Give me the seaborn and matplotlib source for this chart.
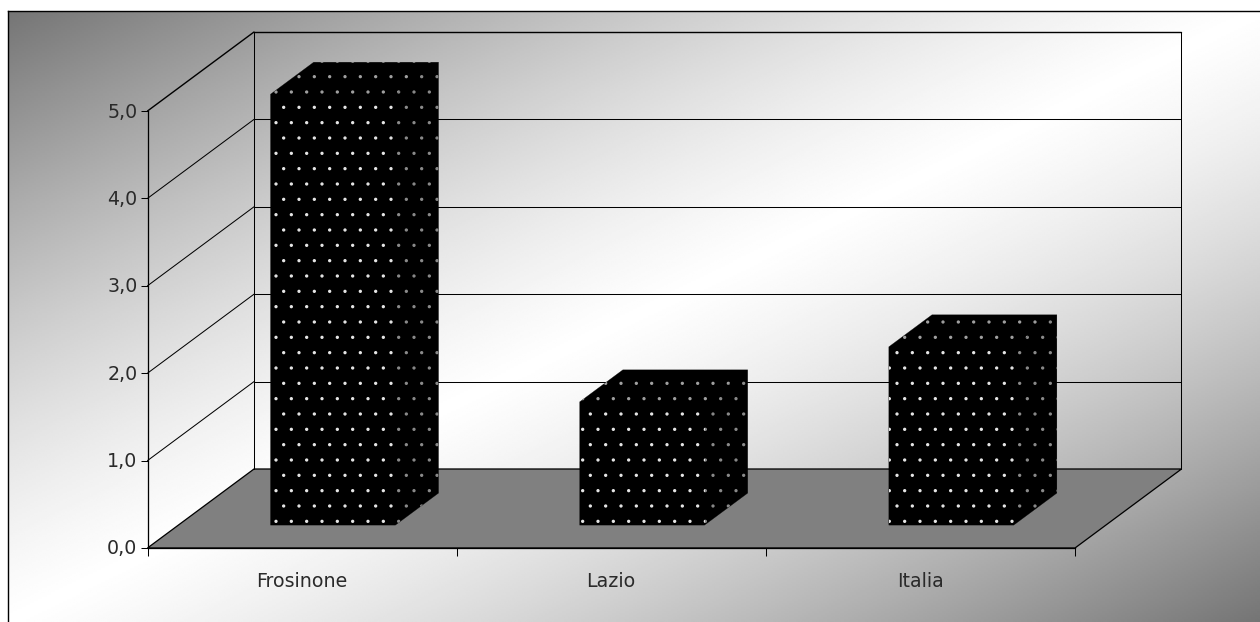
import numpy as np
import matplotlib
matplotlib.use("Agg")
import matplotlib.hatch
import matplotlib.pyplot as plt
from matplotlib.patches import Polygon
from matplotlib.lines import Line2D
from matplotlib.transforms import Affine2D
import seaborn as sns

regions = ["Frosinone", "Lazio", "Italia"]
values = [4.93, 1.41, 2.04]
y_ticks = [0, 1, 2, 3, 4, 5]
y_labels = ["0,0", "1,0", "2,0", "3,0", "4,0", "5,0"]

W, H = 1260, 622
DPI = 92
DEPTH = np.array([106.5, 79.0])     # pixel offset from the front plane to the back wall
BAR_NEAR, BAR_FAR = 0.29, 0.695     # depth range occupied by the bars

sns.set_theme(style="white")
plt.rcParams["font.family"] = ["DejaVu Sans"]
matplotlib.hatch.SmallFilledCircles.size = 0.065   # finer dots for the bar fill

fig = plt.figure(figsize=(W / DPI, H / DPI), dpi=DPI, facecolor="white")

# Panel background: diagonal gradient, grey in two opposite corners with a soft white ridge
bg = fig.add_axes([8 / W, 0, (W - 8) / W, (H - 11) / H], zorder=0)
xx, yy = np.meshgrid(np.linspace(0, 1, 600), np.linspace(0, 1, 300))
t = (xx + yy) / 2
profile = 0.5 * (1 - np.abs(2 * t - 1)) + 0.5 * np.sin(np.pi * t)
bg.imshow(117 + 138 * profile, cmap="gray", vmin=0, vmax=255,
          aspect="auto", origin="upper", interpolation="bilinear")
bg.set_xticks([])
bg.set_yticks([])
for side in ("right", "bottom"):
    bg.spines[side].set_visible(False)
for side in ("left", "top"):
    bg.spines[side].set_color("black")
    bg.spines[side].set_linewidth(1.1)

# Main axes occupy the front plane of the box
ax = fig.add_axes([147.5 / W, (H - 548) / H, (1075 - 147.5) / W, 437 / H], zorder=1)
ax.patch.set_visible(False)
sns.barplot(x=regions, y=values, ax=ax, width=0.404, color="black", saturation=1, zorder=5)
ax.set_xlim(-0.5, 2.5)
ax.set_ylim(0, 5)
ax.set_xlabel("")
ax.set_ylabel("")


def to_px(x, y, depth=0.0):
    """Data point pushed back by a depth fraction, in display pixels."""
    return ax.transData.transform((x, y)) + DEPTH * depth


def add_poly(points, **kw):
    poly = Polygon(points, closed=True, transform=None, clip_on=False, **kw)
    ax.add_artist(poly)
    return poly


def add_line(a, b, lw=0.8, color="black", zorder=2):
    ax.add_artist(Line2D([a[0], b[0]], [a[1], b[1]], transform=None, color=color,
                         lw=lw, clip_on=False, zorder=zorder))


# Floor of the box
add_poly([to_px(-0.5, 0), to_px(2.5, 0), to_px(2.5, 0, 1), to_px(-0.5, 0, 1)],
         facecolor="#808080", edgecolor="black", linewidth=1.0, zorder=1)

# Walls and gridlines
for v in y_ticks[1:]:
    edge = 1.1 if v == y_ticks[-1] else 0.8
    add_line(to_px(-0.5, v), to_px(-0.5, v, 1), lw=edge)
    add_line(to_px(-0.5, v, 1), to_px(2.5, v, 1), lw=edge)
add_line(to_px(-0.5, 0, 1), to_px(-0.5, 5, 1))
add_line(to_px(2.5, 0, 1), to_px(2.5, 5, 1))

# Bars: seaborn draws the front faces, side and top faces extend them in depth
for bar, value in zip(ax.patches[:len(regions)], values):
    x0, x1 = bar.get_x(), bar.get_x() + bar.get_width()
    near = to_px(0, 0, BAR_NEAR) - to_px(0, 0)
    bar.set_transform(ax.transData + Affine2D().translate(*near))
    bar.set(facecolor="black", edgecolor="#e6e6e6", linewidth=0, hatch=".", clip_on=False, zorder=6)
    # solid silhouette underneath, so no seams show between the faces
    add_poly([to_px(x0, 0, BAR_NEAR), to_px(x1, 0, BAR_NEAR), to_px(x1, 0, BAR_FAR),
              to_px(x1, value, BAR_FAR), to_px(x0, value, BAR_FAR), to_px(x0, value, BAR_NEAR)],
             facecolor="black", edgecolor="black", linewidth=0.2, zorder=4)
    add_poly([to_px(x1, 0, BAR_NEAR), to_px(x1, 0, BAR_FAR),
              to_px(x1, value, BAR_FAR), to_px(x1, value, BAR_NEAR)],
             facecolor="none", edgecolor="#8a8a8a", linewidth=0, hatch=".", zorder=5)
    add_poly([to_px(x0, value, BAR_NEAR), to_px(x1, value, BAR_NEAR),
              to_px(x1, value, BAR_FAR), to_px(x0, value, BAR_FAR)],
             facecolor="none", edgecolor="#a0a0a0", linewidth=0, hatch=".", zorder=5)

# Axes furniture
for side in ("top", "right"):
    ax.spines[side].set_visible(False)
for side in ("left", "bottom"):
    ax.spines[side].set_visible(True)
    ax.spines[side].set_color("black")
    ax.spines[side].set_linewidth(1.0)
    ax.spines[side].set_zorder(3)

label_size = 19 * 72 / DPI
px = 72 / DPI
ax.set_yticks(y_ticks, y_labels)
ax.set_xticks(range(len(regions)), regions)
ax.set_xticks([-0.5, 0.5, 1.5, 2.5], minor=True)
ax.tick_params(axis="y", which="major", left=True, length=7 * px, width=0.8, color="black",
               pad=3 * px, labelsize=label_size, labelcolor="#2a2a2a")
ax.tick_params(axis="x", which="major", bottom=False, pad=16 * px,
               labelsize=label_size, labelcolor="#2a2a2a")
ax.tick_params(axis="x", which="minor", bottom=True, length=8 * px, width=0.8, color="black")
for label in ax.get_yticklabels():
    label.set_transform(label.get_transform() + Affine2D().translate(0, 1))

fig.savefig("out.png", dpi=DPI)
